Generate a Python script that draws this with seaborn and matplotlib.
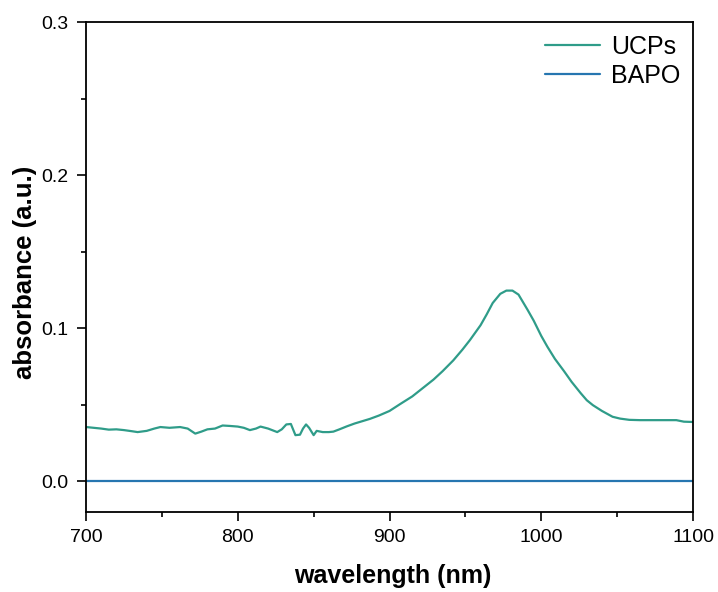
import matplotlib
matplotlib.use("Agg")
import matplotlib.pyplot as plt
import seaborn as sns
import pandas as pd
from matplotlib.ticker import MultipleLocator

# UCPs absorbance spectrum
ucps_wl = [700, 705, 710, 715, 720, 725, 730, 734, 740, 745, 749, 755, 762, 767, 772, 776, 780,
           785, 790, 795, 800, 804, 808, 812, 815, 820, 826, 829, 832, 835, 838, 841, 843, 845,
           847, 850, 852, 856, 860, 863, 867, 872, 877, 882, 887, 893, 900, 907, 915, 922, 929,
           935, 942, 948, 953, 960, 964, 968, 973, 977, 981, 985, 988, 991, 995, 1000, 1004,
           1009, 1015, 1020, 1026, 1030, 1034, 1040, 1047, 1052, 1058, 1065, 1075, 1089, 1094, 1100]
ucps_abs = [0.0355, 0.0350, 0.0345, 0.0338, 0.0340, 0.0335, 0.0328, 0.0322, 0.0330, 0.0345, 0.0355,
            0.0350, 0.0355, 0.0345, 0.0312, 0.0325, 0.0340, 0.0345, 0.0365, 0.0362, 0.0358, 0.0350,
            0.0335, 0.0345, 0.0358, 0.0345, 0.0322, 0.0340, 0.0372, 0.0375, 0.0302, 0.0305, 0.0345,
            0.0372, 0.0350, 0.0302, 0.0330, 0.0322, 0.0322, 0.0325, 0.0340, 0.0360, 0.0378, 0.0393,
            0.0408, 0.0430, 0.0460, 0.0505, 0.0555, 0.0610, 0.0665, 0.0720, 0.0790, 0.0860, 0.0923,
            0.1020, 0.1090, 0.1165, 0.1225, 0.1246, 0.1246, 0.1220, 0.1170, 0.1120, 0.1050, 0.0950,
            0.0880, 0.0800, 0.0720, 0.0650, 0.0576, 0.0530, 0.0498, 0.0460, 0.0422, 0.0410, 0.0402,
            0.0400, 0.0400, 0.0400, 0.0390, 0.0388]

# BAPO absorbance (flat at zero)
bapo_wl = [700, 800, 900, 1000, 1100]
bapo_abs = [0.0, 0.0, 0.0, 0.0, 0.0]

x_ticks = [700, 800, 900, 1000, 1100]
y_ticks = [0.0, 0.1, 0.2, 0.3]

df = pd.concat([
    pd.DataFrame({"wavelength": ucps_wl, "absorbance": ucps_abs, "sample": "UCPs"}),
    pd.DataFrame({"wavelength": bapo_wl, "absorbance": bapo_abs, "sample": "BAPO"}),
])

sns.set_style("ticks")
plt.rcParams["font.family"] = ["Liberation Sans", "DejaVu Sans"]
plt.rcParams["text.color"] = "black"
plt.rcParams["axes.labelcolor"] = "black"

fig = plt.figure(figsize=(7.18, 5.92), dpi=100)
ax = fig.add_axes([0.1198, 0.1351, 0.9652 - 0.1198, 0.9628 - 0.1351])

sns.lineplot(data=df, x="wavelength", y="absorbance", hue="sample",
             palette={"UCPs": "#2f9c89", "BAPO": "#2676b0"},
             linewidth=1.6, ax=ax, sort=False, estimator=None)

ax.set_xlim(700, 1100)
ax.set_ylim(-0.02, 0.3)
ax.set_xticks(x_ticks)
ax.set_yticks(y_ticks)
ax.set_yticklabels([f"{v:.1f}" for v in y_ticks])
ax.xaxis.set_minor_locator(MultipleLocator(50))
ax.yaxis.set_minor_locator(MultipleLocator(0.05))
ax.tick_params(axis="both", which="major", direction="out", length=6.5, width=1.2,
               labelsize=14, colors="black", pad=6)
ax.tick_params(axis="both", which="minor", direction="out", length=3.5, width=1.2,
               colors="black")
for s in ax.spines.values():
    s.set_linewidth(1.3)
    s.set_color("black")

ax.set_xlabel("wavelength (nm)", fontsize=18, fontweight="bold", labelpad=13)
ax.set_ylabel("absorbance (a.u.)", fontsize=18.5, fontweight="bold", labelpad=3.5)
ax.xaxis.label.set_x(0.505)
ax.yaxis.label.set_y(0.49)

leg = ax.legend(loc="upper right", frameon=False, fontsize=18, handlelength=2.2,
                handletextpad=0.45, labelspacing=0.2, borderaxespad=0.1)
leg.set_title(None)

fig.savefig("out.png", dpi=100)
